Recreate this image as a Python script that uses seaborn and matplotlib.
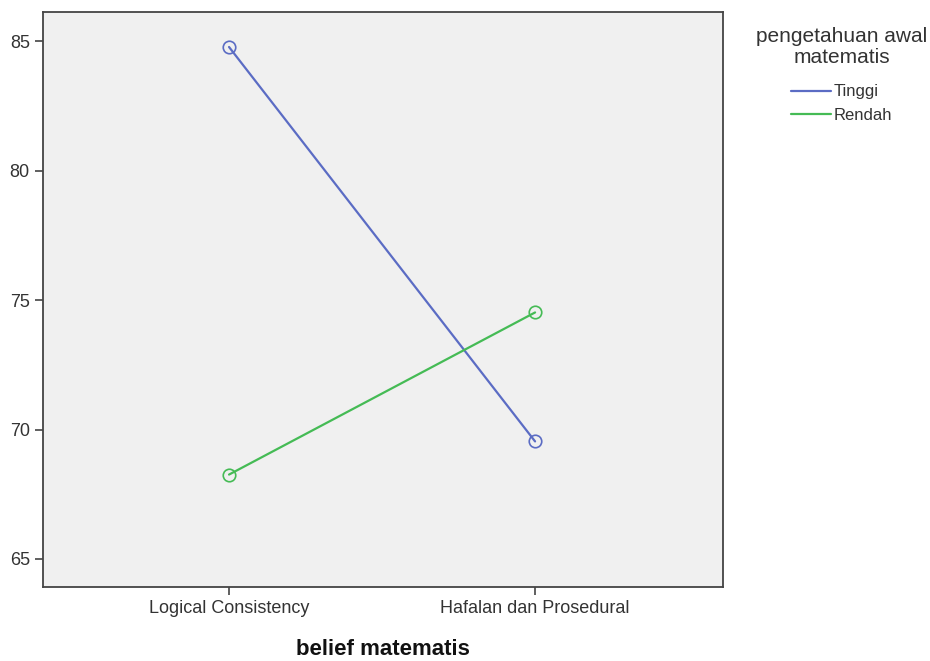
import pandas as pd
import matplotlib.pyplot as plt
import seaborn as sns

belief = ["Logical Consistency", "Hafalan dan Prosedural"]
tinggi = [84.77, 69.54]
rendah = [68.26, 74.52]
groups = ["Tinggi", "Rendah"]

df = pd.DataFrame({
    "belief": belief * 2,
    "nilai": tinggi + rendah,
    "pam": [groups[0]] * 2 + [groups[1]] * 2,
})

sns.set_theme(style="white")
plt.rcParams["font.family"] = ["Liberation Sans", "DejaVu Sans"]

fig = plt.figure(figsize=(9.3, 6.61), dpi=100)
ax = fig.add_axes([0.0462, 0.112, 0.7312, 0.8698])
ax.set_facecolor("#f0f0f0")

palette = {"Tinggi": "#5b6cc4", "Rendah": "#45bb55"}
sns.lineplot(ax=ax, data=df, x="belief", y="nilai", hue="pam", hue_order=groups,
             palette=palette, marker="o", markersize=9, markerfacecolor="none",
             markeredgewidth=1.2, linewidth=1.6, sort=False)
for line in ax.get_lines():
    line.set_markeredgecolor(line.get_color())

ax.set_xlim(-0.608, 1.614)
ax.set_ylim(63.92, 86.12)
ax.set_yticks([65, 70, 75, 80, 85])
ax.set_xlabel("belief matematis", fontsize=16, fontweight="bold", color="#111111", labelpad=16)
ax.set_ylabel("")

for s in ax.spines.values():
    s.set_color("#444444")
    s.set_linewidth(1.3)
ax.tick_params(axis="both", which="major", direction="out", length=6, width=1.2,
               color="#444444", labelsize=13, labelcolor="#333333", bottom=True, left=True)

# legend title drawn separately so the gap to the entries matches
fig.text(0.905, 0.929, "pengetahuan awal\nmatematis", ha="center", va="center",
         fontsize=15, color="#333333", multialignment="center", linespacing=1.15)
leg = ax.legend(loc="upper center", bbox_to_anchor=(0.905, 0.885),
                bbox_transform=fig.transFigure, frameon=False, fontsize=12,
                handlelength=2.4, handletextpad=0.2, labelspacing=0.5,
                borderpad=0.0)
for h in leg.legend_handles:
    h.set_marker("")
for t in leg.get_texts():
    t.set_color("#333333")

fig.savefig("out.png", dpi=100, facecolor="white")
